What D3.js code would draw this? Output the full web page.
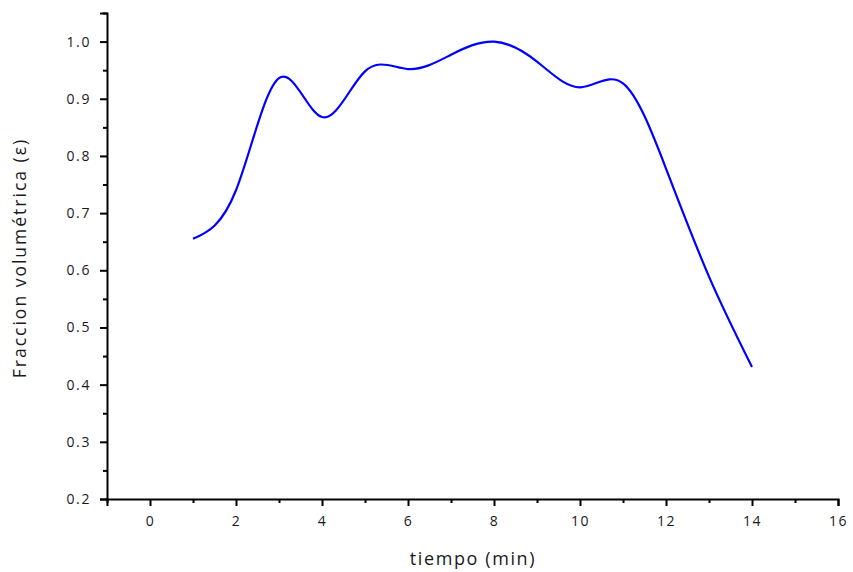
<!DOCTYPE html>
<html>
<head>
<meta charset="utf-8">
<script src="https://cdn.jsdelivr.net/npm/d3@7"></script>
<style>
  html, body { margin: 0; padding: 0; background: #fff; }
  svg text { font-family: "Open Sans", "DejaVu Sans", sans-serif; fill: #1a1a1a; }
</style>
</head>
<body>
<svg id="chart" width="853" height="572"></svg>
<script>
// Volume fraction measured each minute
const tiempo = [1, 2, 3, 4, 5, 6, 7, 8, 9, 10, 11, 12, 13, 14];
const fraccion = [0.655, 0.740, 0.936, 0.868, 0.948, 0.952, 0.977, 1.000, 0.965, 0.920, 0.927, 0.778, 0.589, 0.431];

const xMajorTicks = [0, 2, 4, 6, 8, 10, 12, 14, 16];
const xMinorTicks = [-1, 1, 3, 5, 7, 9, 11, 13, 15];
const yMajorTicks = [0.2, 0.3, 0.4, 0.5, 0.6, 0.7, 0.8, 0.9, 1.0];
const yMinorTicks = [0.25, 0.35, 0.45, 0.55, 0.65, 0.75, 0.85, 0.95, 1.05];

const svg = d3.select("#chart");

const x = d3.scaleLinear().domain([-1, 16]).range([107, 838]);
const y = d3.scaleLinear().domain([0.2, 1.05]).range([499, 13]);

const axisColor = "#000";

// X axis: major ticks with labels, minor ticks without
const gx = svg.append("g").attr("transform", `translate(0,${y(0.2)})`);
gx.call(d3.axisBottom(x).tickValues(xMajorTicks).tickSize(7).tickPadding(10).tickFormat(d3.format("d")));
gx.append("g").call(d3.axisBottom(x).tickValues(xMinorTicks).tickSize(4).tickFormat(""))
  .select(".domain").remove();

// Y axis
const gy = svg.append("g").attr("transform", `translate(${x(-1)},0)`);
gy.call(d3.axisLeft(y).tickValues(yMajorTicks).tickSize(7).tickPadding(9).tickFormat(d3.format(".1f")));
gy.append("g").call(d3.axisLeft(y).tickValues(yMinorTicks).tickSize(4).tickFormat(""))
  .select(".domain").remove();

svg.selectAll(".domain").attr("stroke", axisColor).attr("stroke-width", 2);
svg.selectAll(".tick line").attr("stroke", axisColor).attr("stroke-width", 2);
svg.selectAll(".tick text")
  .attr("font-size", 14)
  .style("letter-spacing", "1.6px")
  .attr("fill", "#1a1a1a");

// Axis titles
svg.append("text")
  .attr("x", 473).attr("y", 565)
  .attr("text-anchor", "middle")
  .attr("font-size", 18)
  .style("letter-spacing", "1.6px")
  .text("tiempo (min)");

svg.append("text")
  .attr("transform", `translate(26,258) rotate(-90)`)
  .attr("text-anchor", "middle")
  .attr("font-size", 17.5)
  .style("letter-spacing", "2px")
  .text("Fraccion volumétrica (ε)");

// Smoothed curve
const data = tiempo.map((t, i) => ({ t, v: fraccion[i] }));
const line = d3.line()
  .x(d => x(d.t))
  .y(d => y(d.v))
  .curve(d3.curveNatural);

svg.append("path")
  .datum(data)
  .attr("d", line)
  .attr("fill", "none")
  .attr("stroke", "#0000ff")
  .attr("stroke-width", 2.2);
</script>
</body>
</html>
